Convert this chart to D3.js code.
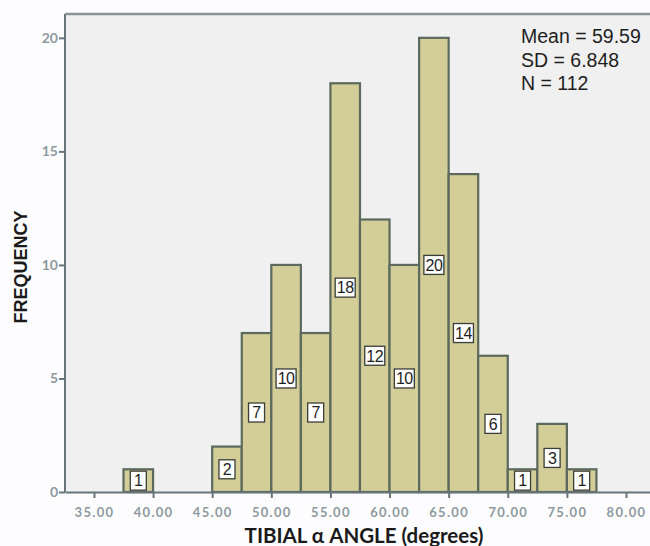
<!DOCTYPE html>
<html>
<head>
<meta charset="utf-8">
<script src="https://cdn.jsdelivr.net/npm/d3@7"></script>
<style>
  body { margin: 0; background: #fdfdff; }
  svg { display: block; }
</style>
</head>
<body>
<div id="hist"></div>
<script>
// Histogram data
const binStarts = [37.5, 45, 47.5, 50, 52.5, 55, 57.5, 60, 62.5, 65, 67.5, 70, 72.5, 75];
const counts = [1, 2, 7, 10, 7, 18, 12, 10, 20, 14, 6, 1, 3, 1];
const binWidth = 2.5;
const xTicks = [35, 40, 45, 50, 55, 60, 65, 70, 75, 80];
const yTicks = [0, 5, 10, 15, 20];
const statLines = ['Mean = 59.59', 'SD = 6.848', 'N = 112'];

let svgWidth = 650;
let svgHeight = 546;
let plot = { left: 65, top: 14, right: 650, bottom: 492 };

let svg = d3.select('#hist').append('svg')
    .attr('width', svgWidth)
    .attr('height', svgHeight);

let data = binStarts.map((b, i) => ({ x0: b, x1: b + binWidth, n: counts[i] }));

// Scales
let xScale = d3.scaleLinear().domain([32.55, 82.03]).range([plot.left, plot.right]);
let yScale = d3.scaleLinear().domain([0, 21.05]).range([plot.bottom, plot.top]);

// Plot background
svg.append('rect')
    .attr('x', plot.left).attr('y', plot.top)
    .attr('width', plot.right - plot.left)
    .attr('height', plot.bottom - plot.top)
    .style('fill', '#f0f0f1');

// Bars
svg.selectAll('rect.bar')
    .data(data).enter()
    .append('rect')
    .attr('class', 'bar')
    .attr('x', d => xScale(d.x0))
    .attr('y', d => yScale(d.n))
    .attr('width', d => xScale(d.x1) - xScale(d.x0))
    .attr('height', d => yScale(0) - yScale(d.n))
    .style('fill', '#d3cd98')
    .style('stroke', '#5b6a5c')
    .style('stroke-width', 2.2);

// Axes
let xAxis = d3.axisBottom(xScale).tickValues(xTicks).tickFormat(d3.format('.2f')).tickSize(6).tickSizeOuter(0);
let yAxis = d3.axisLeft(yScale).tickValues(yTicks).tickSize(6).tickSizeOuter(0);

let gx = svg.append('g').attr('transform', `translate(0, ${plot.bottom})`).call(xAxis);
let gy = svg.append('g').attr('transform', `translate(${plot.left}, 0)`).call(yAxis);

[gx, gy].forEach(g => {
    g.select('.domain').style('stroke', '#67757a').style('stroke-width', 2);
    g.selectAll('.tick line').style('stroke', '#67757a').style('stroke-width', 2);
    g.selectAll('.tick text')
        .style('fill', '#8e999e')
        .style('font-family', 'Lato, sans-serif')
        .style('font-weight', 'bold')
        .style('font-size', '13px');
});
gx.selectAll('.tick text').attr('dy', '1.2em').style('letter-spacing', '1.3px');
gy.selectAll('.tick text').attr('x', -7).style('font-size', '14px');
gy.select('.domain').attr('d', `M0,${plot.bottom}V${plot.top}`);

// Top frame line
svg.append('line')
    .attr('x1', plot.left).attr('x2', plot.right)
    .attr('y1', plot.top).attr('y2', plot.top)
    .style('stroke', '#8a9396')
    .style('stroke-width', 2.5);

// Count labels in the middle of each bar
let labelGroup = svg.selectAll('g.countLabel')
    .data(data).enter()
    .append('g')
    .attr('class', 'countLabel')
    .attr('transform', d => `translate(${(xScale(d.x0) + xScale(d.x1)) / 2}, ${(yScale(d.n) + yScale(0)) / 2})`);

labelGroup.append('rect')
    .attr('x', d => String(d.n).length > 1 ? -10 : -8)
    .attr('y', -9.5)
    .attr('width', d => String(d.n).length > 1 ? 20 : 16)
    .attr('height', 19)
    .style('fill', '#ffffff')
    .style('stroke', '#3a3d38')
    .style('stroke-width', 1.3);

labelGroup.append('text')
    .text(d => d.n)
    .attr('text-anchor', 'middle')
    .attr('dy', '0.36em')
    .style('font-family', 'Arial, "Liberation Sans", sans-serif')
    .style('font-size', '16px')
    .style('letter-spacing', '-0.5px')
    .style('fill', '#1e1e1e');

// Summary statistics
svg.append('g').selectAll('text')
    .data(statLines).enter()
    .append('text')
    .attr('x', 521)
    .attr('y', (d, i) => 43 + i * 23.5)
    .text(d => d)
    .style('font-family', 'Arial, "Liberation Sans", sans-serif')
    .style('font-size', '19.5px')
    .style('fill', '#1e1e1e');

// Axis titles
svg.append('text')
    .attr('transform', `translate(364, 543)`)
    .attr('text-anchor', 'middle')
    .text('TIBIAL α ANGLE (degrees)')
    .style('font-family', 'Lato, sans-serif')
    .style('font-weight', 'bold')
    .style('font-size', '20.5px')
    .style('fill', '#1a1a1a');

svg.append('text')
    .attr('transform', `translate(27, 267) rotate(-90)`)
    .attr('text-anchor', 'middle')
    .text('FREQUENCY')
    .style('font-family', 'Arial, "Liberation Sans", sans-serif')
    .style('font-weight', 'bold')
    .style('font-size', '18px')
    .style('fill', '#1a1a1a');
</script>
</body>
</html>
